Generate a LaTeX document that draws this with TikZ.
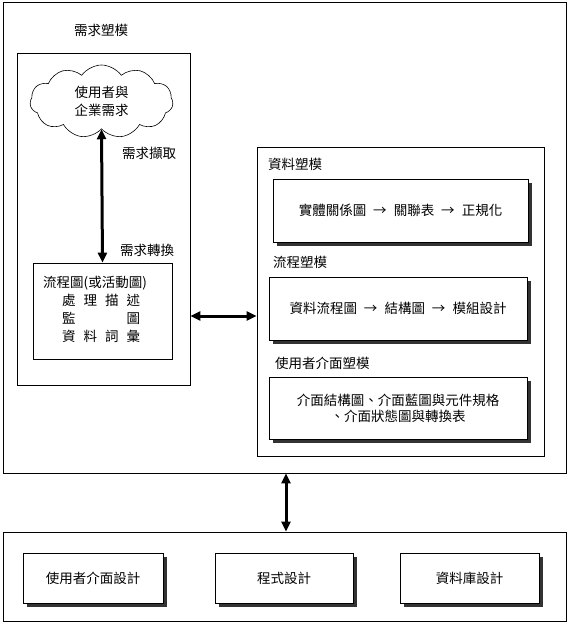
\documentclass[tikz,border=0pt]{standalone}
\usepackage{fontspec}
\setmainfont{Noto Sans CJK TC}
\usetikzlibrary{arrows.meta,shapes.symbols,shadows}
\newcommand{\arr}{\hspace{7pt}→\hspace{7pt}}
\begin{document}
\begin{tikzpicture}[x=1pt,y=-1pt,
  every node/.style={font=\fontsize{13.5pt}{18pt}\selectfont, inner sep=0pt},
  frame/.style={draw, line width=0.8pt, minimum width=#1},
  sbox/.style={draw, fill=white, line width=0.8pt, align=center,
     drop shadow={shadow xshift=4pt, shadow yshift=-4pt, fill=black!80, opacity=1}},
  lbl/.style={anchor=west},
  dbl/.style={line width=3pt, {Triangle[length=10pt,width=9pt]}-{Triangle[length=10pt,width=9pt]}}
]
\useasboundingbox (0,0) rectangle (568,624);
% top outer frame
\node[frame=563pt, minimum height=471pt] (top) at (284.5,237.5) {};
\node (ttl) at (101,30) {需求塑模};
% left inner frame
\node[frame=173pt, minimum height=332pt] (left) at (103.5,219) {};
\node[cloud, draw, line width=0.6pt, cloud puffs=11, cloud puff arc=110, aspect=2,
      minimum width=143pt, minimum height=73pt, align=center] (cloud) at (101.5,101.5)
      {使用者與\\企業需求};
\node[draw, line width=0.8pt, minimum width=139pt, minimum height=96pt] (proc) at (102.5,311) {};
\node[align=left, anchor=west] (proctxt) at (43,309.5) {流程圖(或活動圖)\\
  \hspace*{19pt}\makebox[78pt]{處\hfill 理\hfill 描\hfill 述}\\
  \hspace*{19pt}\makebox[78pt]{監\hfill 圖}\\
  \hspace*{19pt}\makebox[78pt]{資\hfill 料\hfill 詞\hfill 彙}};
\node[lbl] (l1) at (122,153) {需求擷取};
\node[lbl] (l2) at (120,250) {需求轉換};
\draw[dbl] (cloud.south) -- (proc.north);
% right inner frame
\node[frame=287pt, minimum height=309pt] (right) at (400.5,301.5) {};
\node[lbl] (t1) at (268,164) {資料塑模};
\node[sbox, minimum width=255pt, minimum height=63pt] (b1) at (400.5,210.5) {實體關係圖\arr 關聯表\arr 正規化};
\node[lbl] (t2) at (273,262) {流程塑模};
\node[sbox, minimum width=258pt, minimum height=63pt] (b2) at (398,308.5) {資料流程圖\arr 結構圖\arr 模組設計};
\node[lbl] (t3) at (275,363) {使用者介面塑模};
\node[sbox, minimum width=258pt, minimum height=62pt, font=\fontsize{13.5pt}{16pt}\selectfont] (b3) at (398,408)
  {介面結構圖、介面藍圖與元件規格\\、介面狀態圖與轉換表};
\draw[dbl] (left.east |- 0,316) coordinate (ha) -- (right.west |- 0,316) coordinate (hb);
% bottom frame
\node[frame=563pt, minimum height=89pt] (bot) at (284.5,576.5) {};
\node[sbox, minimum width=140pt, minimum height=50pt] (d1) at (93,578) {使用者介面設計};
\node[sbox, minimum width=138pt, minimum height=50pt] (d2) at (284,578) {程式設計};
\node[sbox, minimum width=139pt, minimum height=50pt] (d3) at (469.5,578) {資料庫設計};
\draw[dbl] (top.south -| 286,0) -- (bot.north -| 286,0);
\end{tikzpicture}
\end{document}
